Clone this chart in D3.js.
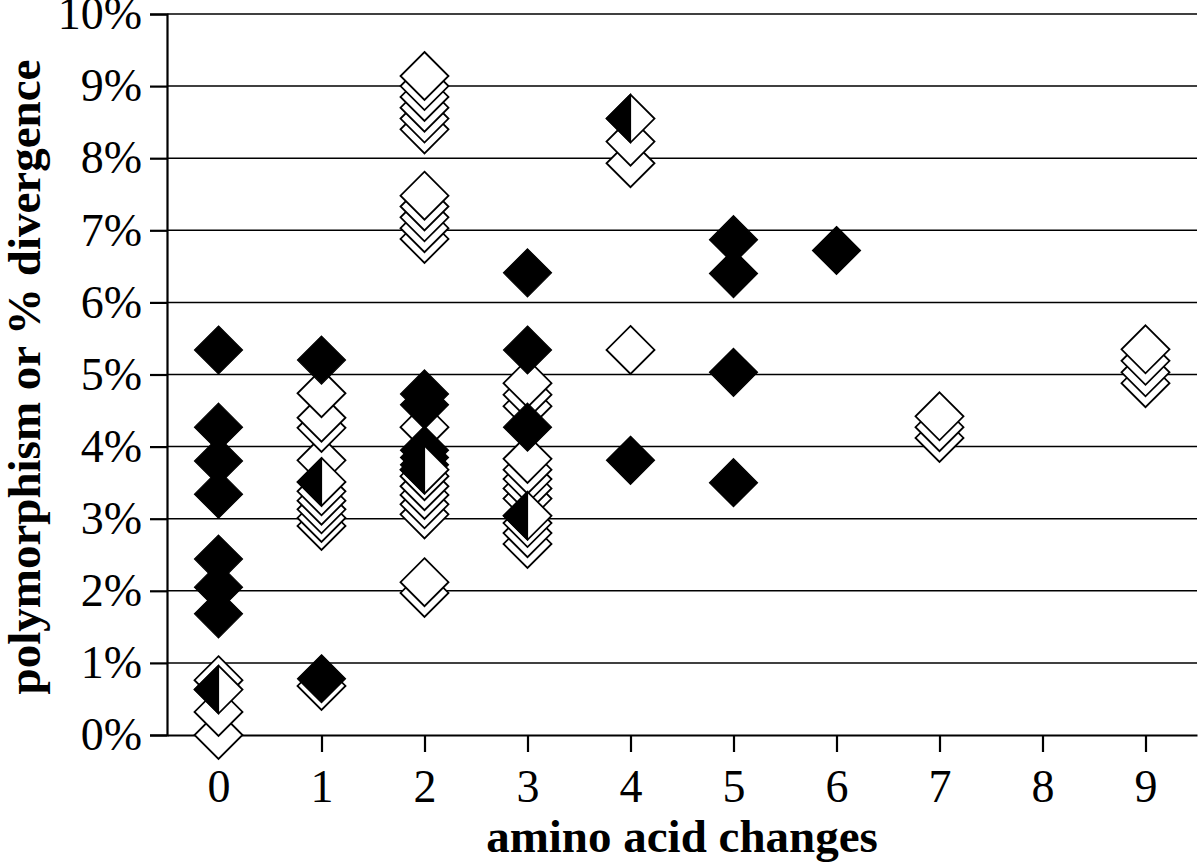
<!DOCTYPE html>
<html>
<head>
<meta charset="utf-8">
<script src="https://cdn.jsdelivr.net/npm/d3@7"></script>
<style>
  html, body { margin: 0; padding: 0; background: #fff; }
  svg { display: block; }
  text { font-family: "Liberation Serif", "Times New Roman", serif; fill: #000; }
</style>
</head>
<body>
<svg id="chart" width="1200" height="865"></svg>
<script>
// ---- data ----
const xCategories = [0, 1, 2, 3, 4, 5, 6, 7, 8, 9];
const yTicks = [0, 0.01, 0.02, 0.03, 0.04, 0.05, 0.06, 0.07, 0.08, 0.09, 0.10];

// open (white) diamonds: [amino acid changes, % value]
const openPoints = [
  [0, 0.76], [0, 0.32], [0, 0.0],
  [1, 4.74], [1, 4.40], [1, 4.26], [1, 3.81], [1, 3.38], [1, 3.25], [1, 3.13], [1, 3.01], [1, 2.90], [1, 0.68],
  [2, 9.14], [2, 9.00], [2, 8.85], [2, 8.70], [2, 8.55], [2, 8.40],
  [2, 7.48], [2, 7.33], [2, 7.18], [2, 7.03], [2, 6.88],
  [2, 4.27], [2, 3.59], [2, 3.45], [2, 3.33], [2, 3.20], [2, 3.06], [2, 2.12], [2, 1.97],
  [3, 4.88], [3, 4.72], [3, 4.56], [3, 3.83], [3, 3.68], [3, 3.55], [3, 3.42], [3, 3.28], [3, 2.94], [3, 2.80], [3, 2.65],
  [4, 8.23], [4, 7.93], [4, 5.34],
  [7, 4.42], [7, 4.27], [7, 4.12],
  [9, 5.35], [9, 5.19], [9, 5.03], [9, 4.88]
];

// filled (black) diamonds
const filledPoints = [
  [0, 5.34], [0, 4.27], [0, 3.80], [0, 3.34], [0, 2.44], [0, 2.05], [0, 1.68],
  [1, 5.20], [1, 0.78],
  [2, 4.73], [2, 4.58], [2, 3.95], [2, 3.85], [2, 3.75],
  [3, 6.41], [3, 5.34], [3, 4.27],
  [4, 3.81],
  [5, 6.87], [5, 6.40], [5, 5.03], [5, 3.50],
  [6, 6.72]
];

// half-filled diamonds
const halfPoints = [
  [0, 0.63], [1, 3.51], [2, 3.68], [3, 3.04], [4, 8.55]
];

const xTitle = "amino acid changes";
const yTitle = "polymorphism or % divergence";

// ---- layout ----
const svg = d3.select("#chart");
const plotLeft = 167, plotRight = 1197, plotTop = 14, plotBottom = 735;

const x = d3.scaleLinear().domain([-0.5, 9.5]).range([plotLeft, plotRight]);
const y = d3.scaleLinear().domain([0, 0.10]).range([plotBottom, plotTop]);
const R = 24; // diamond half-diagonal

// gridlines
svg.append("g").selectAll("line")
  .data(yTicks.filter(d => d > 0))
  .join("line")
  .attr("x1", plotLeft).attr("x2", plotRight)
  .attr("y1", d => y(d)).attr("y2", d => y(d))
  .attr("stroke", "#000").attr("stroke-width", 1.5);

// y axis
const yAxis = d3.axisLeft(y).tickValues(yTicks).tickFormat(d3.format(".0%"))
  .tickSize(17).tickPadding(8);
const gy = svg.append("g").attr("transform", `translate(${plotLeft},0)`).call(yAxis);
gy.select(".domain").attr("stroke", "#000").attr("stroke-width", 2.2);
gy.selectAll(".tick line").attr("stroke", "#000").attr("stroke-width", 2.2);
gy.selectAll(".tick text").style("font-size", "46px").style("font-family", "'Liberation Serif', serif");

// x axis
const xAxis = d3.axisBottom(x).tickValues(xCategories).tickFormat(d3.format("d"))
  .tickSize(17).tickSizeOuter(0).tickPadding(17);
const gx = svg.append("g").attr("transform", `translate(0,${plotBottom})`).call(xAxis);
gx.select(".domain").attr("stroke", "#000").attr("stroke-width", 2.2);
gx.selectAll(".tick line").attr("stroke", "#000").attr("stroke-width", 2.2);
gx.selectAll(".tick text").style("font-size", "46px").style("font-family", "'Liberation Serif', serif");

// diamond path helpers
const diamond = (cx, cy) => `M${cx},${cy - R}L${cx + R},${cy}L${cx},${cy + R}L${cx - R},${cy}Z`;
const leftHalf = (cx, cy) => `M${cx},${cy - R}L${cx},${cy + R}L${cx - R},${cy}Z`;

const marks = svg.append("g");
const openSorted = openPoints.slice().sort((a, b) => a[1] - b[1]);

marks.selectAll("path.open")
  .data(openSorted)
  .join("path")
  .attr("class", "open")
  .attr("d", d => diamond(x(d[0]), y(d[1] / 100)))
  .attr("fill", "#fff").attr("stroke", "#000").attr("stroke-width", 1.8);

marks.selectAll("path.filled")
  .data(filledPoints)
  .join("path")
  .attr("class", "filled")
  .attr("d", d => diamond(x(d[0]), y(d[1] / 100)))
  .attr("fill", "#000").attr("stroke", "#000").attr("stroke-width", 1.2);

const halves = marks.selectAll("g.half")
  .data(halfPoints)
  .join("g")
  .attr("class", "half");
halves.append("path")
  .attr("d", d => diamond(x(d[0]), y(d[1] / 100)))
  .attr("fill", "#fff").attr("stroke", "#000").attr("stroke-width", 1.8);
halves.append("path")
  .attr("d", d => leftHalf(x(d[0]), y(d[1] / 100)))
  .attr("fill", "#000").attr("stroke", "#000").attr("stroke-width", 1.2);

// axis titles
svg.append("text")
  .attr("x", (plotLeft + plotRight) / 2).attr("y", 852)
  .attr("text-anchor", "middle")
  .style("font-size", "47px").style("font-weight", "bold")
  .text(xTitle);

svg.append("text")
  .attr("transform", `translate(40,377) rotate(-90)`)
  .attr("text-anchor", "middle")
  .style("font-size", "47px").style("font-weight", "bold")
  .text(yTitle);
</script>
</body>
</html>
